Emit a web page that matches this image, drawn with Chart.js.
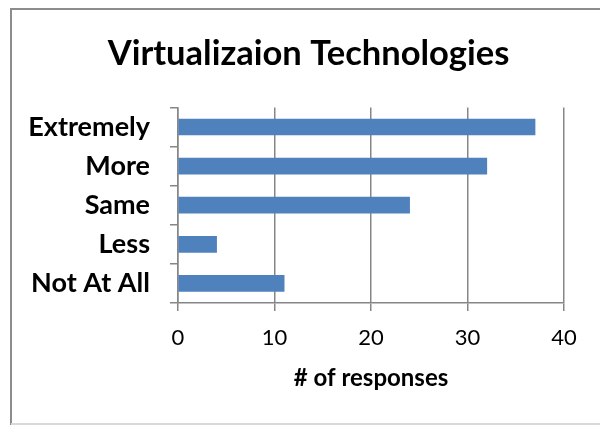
<!DOCTYPE html>
<html>
<head>
<meta charset="utf-8">
<script src="https://cdn.jsdelivr.net/npm/chart.js@4/dist/chart.umd.min.js"></script>
<style>
  html, body { margin: 0; padding: 0; background: #fff; }
  #wrap { width: 600px; height: 426px; }
</style>
</head>
<body>
<div id="wrap"><canvas id="techChart" width="600" height="426"></canvas></div>
<script>
// Data
var categories = ["Extremely", "More", "Same", "Less", "Not At All"];
var responses = [37, 32, 24, 4, 11];
var xTicks = [0, 10, 20, 30, 40];

var FONT = "Lato, 'Open Sans', sans-serif";
var AXIS_GREY = '#868686';

// frame around the whole chart (left/top darker, bottom light)
var framePlugin = {
    id: 'frame',
    afterDraw: function (chart) {
        var c = chart.ctx;
        c.save();
        c.lineWidth = 2;
        c.strokeStyle = '#8c8c8c';
        c.beginPath();
        c.moveTo(11, 425);
        c.lineTo(11, 9);
        c.lineTo(600, 9);
        c.stroke();
        c.strokeStyle = '#d9d9d9';
        c.beginPath();
        c.moveTo(11, 424);
        c.lineTo(600, 424);
        c.stroke();
        c.restore();
    }
};

var ctx = document.getElementById("techChart").getContext('2d');
var techChart = new Chart(ctx, {
    type: 'bar',
    data: {
        labels: categories,
        datasets: [{
            label: '# of responses',
            data: responses,
            backgroundColor: '#4f81bd',
            borderWidth: 0,
            barThickness: 16
        }]
    },
    options: {
        indexAxis: 'y',
        responsive: false,
        animation: false,
        layout: { padding: { left: 53, right: 36, top: 0, bottom: 0 } },
        plugins: {
            legend: { display: false },
            tooltip: { enabled: false },
            title: {
                display: true,
                text: 'Virtualizaion Technologies',
                color: '#000',
                font: { family: FONT, size: 34.5, weight: 'bold' },
                padding: { top: 33, bottom: 33 }
            }
        },
        scales: {
            x: {
                min: 0,
                max: 40,
                afterBuildTicks: function (scale) {
                    scale.ticks = xTicks.map(function (v) { return { value: v }; });
                },
                afterFit: function (scale) { scale.height = 123; },
                grid: {
                    color: AXIS_GREY,
                    lineWidth: 1.5,
                    tickLength: 8
                },
                border: { color: AXIS_GREY, width: 1.5 },
                ticks: {
                    color: '#000',
                    padding: 14,
                    maxRotation: 0,
                    font: { family: FONT, size: 22 }
                },
                title: {
                    display: true,
                    text: '# of responses',
                    color: '#000',
                    font: { family: FONT, size: 24, weight: 'bold' },
                    padding: { top: 0, bottom: 33 }
                }
            },
            y: {
                afterFit: function (scale) {
                    scale.width = 125;
                    // labels reach left of the scale box, don't clip them
                    scale._computeLabelArea = function () { return undefined; };
                },
                grid: {
                    display: true,
                    drawOnChartArea: false,
                    color: AXIS_GREY,
                    lineWidth: 1.5,
                    tickLength: 8,
                    offset: true
                },
                border: { color: AXIS_GREY, width: 1.5 },
                ticks: {
                    color: '#000',
                    padding: 20,
                    font: { family: FONT, size: 27, weight: 'bold' }
                }
            }
        }
    },
    plugins: [framePlugin]
});
</script>
</body>
</html>
